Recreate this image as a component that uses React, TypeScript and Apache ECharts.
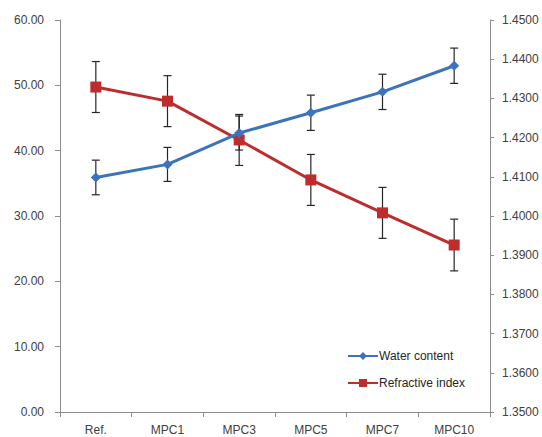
import React, { useEffect, useRef } from "react";
import * as echarts from "echarts";

const categories = ["Ref.", "MPC1", "MPC3", "MPC5", "MPC7", "MPC10"];
const waterContent = [35.9, 37.9, 42.7, 45.8, 49.0, 53.0];
const waterErr = [2.65, 2.6, 2.6, 2.7, 2.7, 2.7];
const refractiveIndex = [1.4329, 1.4293, 1.4194, 1.4092, 1.4008, 1.3926];
const refractiveErr = [0.0065, 0.0065, 0.0065, 0.0065, 0.0065, 0.0066];

const BLUE = "#3B73BD";
const RED = "#BE2D2D";
const FONT = "Liberation Sans";

function errorRenderItem(params: any, api: any) {
  const x = api.value(0);
  const lo = api.coord([x, api.value(1)]);
  const hi = api.coord([x, api.value(2)]);
  const half = 4;
  const style = { stroke: "#262626", lineWidth: 1.2 };
  return {
    type: "group",
    children: [
      { type: "line", shape: { x1: lo[0], y1: lo[1], x2: hi[0], y2: hi[1] }, style },
      { type: "line", shape: { x1: lo[0] - half, y1: lo[1], x2: lo[0] + half, y2: lo[1] }, style },
      { type: "line", shape: { x1: hi[0] - half, y1: hi[1], x2: hi[0] + half, y2: hi[1] }, style },
    ],
  };
}

export default function App() {
  const ref = useRef<HTMLDivElement>(null);
  useEffect(() => {
    const chart = echarts.init(ref.current!, null, { renderer: "svg" });
    const waterErrData = waterContent.map((v, i) => [i, v - waterErr[i], v + waterErr[i]]);
    const refrErrData = refractiveIndex.map((v, i) => [i, v - refractiveErr[i], v + refractiveErr[i]]);
    const axisLine = { show: true, lineStyle: { color: "#8c8c8c", width: 1 } };
    const axisLabel = { color: "#404040", fontFamily: FONT, fontSize: 12 };
    chart.setOption({
      animation: false,
      backgroundColor: "#ffffff",
      textStyle: { fontFamily: FONT },
      grid: { left: 60, right: 52, top: 20, bottom: 25, outerBoundsMode: "none", containLabel: false },
      legend: {
        orient: "vertical",
        left: 342,
        top: 345,
        itemWidth: 30,
        itemHeight: 10,
        itemGap: 15,
        textStyle: { color: "#262626", fontFamily: FONT, fontSize: 12, padding: [0, 0, 0, -4] },
        data: ["Water content", "Refractive index"],
      },
      xAxis: {
        type: "category",
        data: categories,
        boundaryGap: true,
        axisLine,
        axisTick: { show: true, inside: false, length: 5, lineStyle: { color: "#8c8c8c" } },
        axisLabel: { ...axisLabel, margin: 12 },
        splitLine: { show: false },
      },
      yAxis: [
        {
          type: "value",
          min: 0,
          max: 60,
          interval: 10,
          position: "left",
          axisLine,
          axisTick: { show: true, length: 5, lineStyle: { color: "#8c8c8c" } },
          axisLabel: { ...axisLabel, margin: 16, formatter: (v: number) => v.toFixed(2) },
          splitLine: { show: false },
        },
        {
          type: "value",
          min: 1.35,
          max: 1.45,
          interval: 0.01,
          position: "right",
          axisLine,
          axisTick: { show: true, length: 4, lineStyle: { color: "#8c8c8c" } },
          axisLabel: { ...axisLabel, margin: 12, formatter: (v: number) => v.toFixed(4) },
          splitLine: { show: false },
        },
      ],
      series: [
        {
          type: "custom",
          name: "wErr",
          yAxisIndex: 0,
          renderItem: errorRenderItem,
          data: waterErrData,
          encode: { x: 0, y: [1, 2] },
          z: 1,
          silent: true,
        },
        {
          type: "custom",
          name: "rErr",
          yAxisIndex: 1,
          renderItem: errorRenderItem,
          data: refrErrData,
          encode: { x: 0, y: [1, 2] },
          z: 1,
          silent: true,
        },
        {
          type: "line",
          name: "Water content",
          yAxisIndex: 0,
          data: waterContent,
          symbol: "diamond",
          symbolSize: 10,
          showAllSymbol: true,
          lineStyle: { color: BLUE, width: 3 },
          itemStyle: { color: BLUE, borderWidth: 0 },
          z: 3,
        },
        {
          type: "line",
          name: "Refractive index",
          yAxisIndex: 1,
          data: refractiveIndex,
          symbol: "rect",
          symbolSize: 11,
          showAllSymbol: true,
          lineStyle: { color: RED, width: 3 },
          itemStyle: { color: RED, borderWidth: 0 },
          z: 2,
        },
      ],
    });
    return () => chart.dispose();
  }, []);
  return (
    <div
      ref={ref}
      style={{ position: "absolute", left: 0, top: 0, width: 542, height: 437 }}
    />
  );
}
